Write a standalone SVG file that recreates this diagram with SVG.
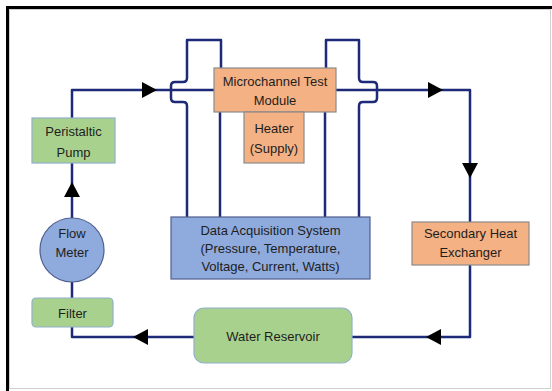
<svg xmlns="http://www.w3.org/2000/svg" width="552" height="391" viewBox="0 0 552 391">
  <style>
    .lbl { font-family: "Liberation Sans", Arial, sans-serif; font-size: 13px; fill: #1e1e1e; text-anchor: middle; }
    .green { fill: #a9d18e; stroke: #8fb0c8; stroke-width: 1.2; }
    .orange { fill: #f4b183; stroke: #8a8a8a; stroke-width: 1.2; }
    .blue { fill: #8faadc; stroke: #4f5f8f; stroke-width: 1.2; }
    .wire { fill: none; stroke: #1c2a78; stroke-width: 2.5; stroke-linejoin: round; }
  </style>
  <defs>
    <marker id="arrow" markerUnits="userSpaceOnUse" markerWidth="15" markerHeight="16" viewBox="0 0 15 16" refX="15" refY="8" orient="auto">
      <path d="M0,0 L15,8 L0,16 Z" fill="#000"/>
    </marker>
  </defs>

  <!-- frame -->
  <rect x="0" y="0" width="552" height="391" fill="#ffffff"/>
  <rect x="9.5" y="9.5" width="541" height="379" fill="none" stroke="#d0d0d0" stroke-width="1"/>
  <line x1="6" y1="7.5" x2="552" y2="7.5" stroke="#000" stroke-width="3"/>
  <line x1="7.5" y1="6" x2="7.5" y2="391" stroke="#000" stroke-width="3"/>

  <!-- connectors -->
  <g id="connectors">
    <!-- flow loop -->
    <path class="wire" d="M72,218 V182" marker-end="url(#arrow)"/>
    <path class="wire" d="M72,182 V163"/>
    <path class="wire" d="M72,118 V90 H157" marker-end="url(#arrow)"/>
    <path class="wire" d="M157,90 H214"/>
    <path class="wire" d="M336,90 H443" marker-end="url(#arrow)"/>
    <path class="wire" d="M443,90 H470 V178" marker-end="url(#arrow)"/>
    <path class="wire" d="M470,178 V222"/>
    <path class="wire" d="M470,265 V337 H426" marker-end="url(#arrow)"/>
    <path class="wire" d="M426,337 H352"/>
    <path class="wire" d="M194,337 H133" marker-end="url(#arrow)"/>
    <path class="wire" d="M133,337 H72 V327"/>
    <path class="wire" d="M72,298 V282"/>
    <!-- sensor lines to data acquisition -->
    <path class="wire" d="M187,217 V106 Q187,102 183,102 H175 Q171,102 171,98 V86 Q171,82 175,82 H183 Q187,82 187,78 V40 H221 V68"/>
    <path class="wire" d="M220,112 V217"/>
    <path class="wire" d="M326,68 V40 H359 V78 Q359,82 363,82 H373 Q377,82 377,86 V98 Q377,102 373,102 H363 Q359,102 359,106 V217"/>
    <path class="wire" d="M325,112 V217"/>
  </g>

  <g id="pump">
    <rect class="green" x="32" y="118" width="83" height="45"/>
    <text class="lbl" x="73.5" y="135.5">Peristaltic</text>
    <text class="lbl" x="73.5" y="156.5">Pump</text>
  </g>

  <g id="flow-meter">
    <circle class="blue" cx="72" cy="250" r="32"/>
    <text class="lbl" x="72" y="237.5">Flow</text>
    <text class="lbl" x="72" y="256.5">Meter</text>
  </g>

  <g id="filter">
    <rect class="green" x="32" y="298" width="81" height="29" rx="4"/>
    <text class="lbl" x="72.5" y="317.5">Filter</text>
  </g>

  <g id="test-module">
    <rect class="orange" x="214" y="68" width="122" height="44"/>
    <text class="lbl" x="275" y="85.5">Microchannel Test</text>
    <text class="lbl" x="275" y="104.5">Module</text>
  </g>

  <g id="heater">
    <rect class="orange" x="244" y="112" width="60" height="51"/>
    <text class="lbl" x="274" y="132.5">Heater</text>
    <text class="lbl" x="274" y="152.5">(Supply)</text>
  </g>

  <g id="daq">
    <rect class="blue" x="171" y="217" width="199" height="62"/>
    <text class="lbl" x="270.5" y="234.5">Data Acquisition System</text>
    <text class="lbl" x="270.5" y="252.5">(Pressure, Temperature,</text>
    <text class="lbl" x="270.5" y="271">Voltage, Current, Watts)</text>
  </g>

  <g id="heat-exchanger">
    <rect class="orange" x="412" y="222" width="117" height="43"/>
    <text class="lbl" x="470.5" y="237.5">Secondary Heat</text>
    <text class="lbl" x="470.5" y="256.5">Exchanger</text>
  </g>

  <g id="reservoir">
    <rect class="green" x="194" y="308" width="158" height="55" rx="10"/>
    <text class="lbl" x="273" y="340.5">Water Reservoir</text>
  </g>
</svg>
